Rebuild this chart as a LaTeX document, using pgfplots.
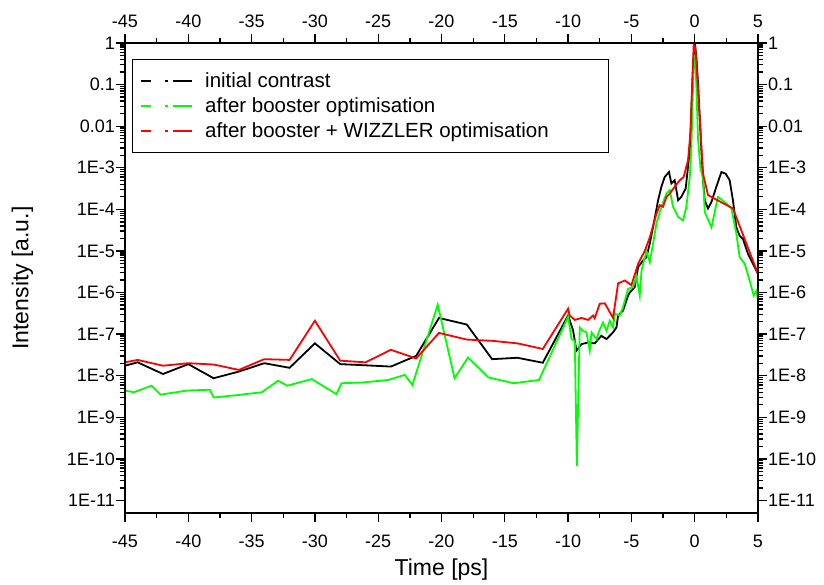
\documentclass[border=0pt]{standalone}
\usepackage{pgfplots}
\pgfplotsset{compat=1.18}
\usepackage{fontspec}
\setmainfont{Liberation Sans}
\definecolor{cgreen}{RGB}{0,255,0}
\definecolor{cred}{RGB}{255,0,0}
\begin{document}
\begin{tikzpicture}
\begin{axis}[
  at={(0pt,0pt)}, anchor=south west,
  scale only axis, width=633pt, height=470pt,
  xmin=-45, xmax=5, ymode=log, ymin=5e-12, ymax=1,
  xtick={-45,-40,...,5},
  xticklabels={-45,-40,-35,-30,-25,-20,-15,-10,-5,0,5},
  minor x tick num=1,
  ytick={1e-11,1e-10,1e-9,1e-8,1e-7,1e-6,1e-5,1e-4,1e-3,1e-2,1e-1,1},
  yticklabels={1E-11,1E-10,1E-9,1E-8,1E-7,1E-6,1E-5,1E-4,1E-3,0.01,0.1,1},
  tick align=outside,
  major tick length=9pt, minor tick length=5pt,
  every tick/.style={black, line width=1.3pt},
  axis line style={line width=1.4pt},
  ticklabel style={font=\fontsize{18}{20}\selectfont},
  xticklabel style={inner sep=2pt, yshift=-11pt},
  yticklabel style={inner sep=1pt},
  xticklabel pos=lower, yticklabel pos=left,
  xlabel={Time [ps]}, ylabel={Intensity [a.u.]},
  label style={font=\fontsize{23}{27}\selectfont},
  xlabel style={yshift=-5pt},
  ylabel style={yshift=29pt},
  legend cell align=left,
  legend style={at={(0.0106,0.9653)}, anchor=north west,
    draw=black, line width=1pt, font=\fontsize{20.5}{24}\selectfont,
    inner xsep=8pt, inner ysep=11pt, row sep=4.7pt},
  legend image code/.code={\draw[#1, line width=2pt, dash pattern=on 10pt off 14pt on 3pt off 5pt on 19pt off 10pt] (0pt,0pt) -- (51pt,0pt); \path[draw=none] (0pt,0pt) -- (62pt,0pt);},
]
\addplot[black, line width=1.8pt] coordinates {
(-45,1.74e-8) (-44,2.1e-8) (-42,1.1e-8) (-40,1.9e-8) (-38,8.7e-9) (-36,1.26e-8)
(-34,2.0e-8) (-32,1.55e-8) (-30,6.0e-8) (-28,1.9e-8) (-26,1.78e-8) (-24,1.66e-8)
(-22,3.0e-8) (-20.2,2.45e-7) (-18,1.7e-7) (-16,2.5e-8) (-14,2.7e-8) (-12,2.05e-8)
(-10.0,2.8e-7) (-9.6,1.2e-7) (-9.34,4.0e-8) (-8.94,5.75e-8) (-8.42,6.3e-8) (-7.9,6.0e-8)
(-7.37,9.1e-8) (-6.97,7.6e-8) (-6.45,1.1e-7) (-6.18,1.45e-7) (-6.05,2.8e-7) (-5.66,3.7e-7)
(-5.26,8.5e-7) (-5.13,1.0e-6) (-4.74,1.35e-6) (-4.47,4.1e-6) (-4.0,6.3e-6) (-3.81,7.1e-6)
(-3.55,1.5e-5) (-3.16,6.0e-5) (-2.89,1.66e-4) (-2.63,3.5e-4) (-2.37,6.0e-4) (-2.03,7.9e-4)
(-1.84,4.2e-4) (-1.58,5.0e-4) (-1.31,1.66e-4) (-1.05,2.0e-4) (-0.71,3.2e-4) (-0.39,2.6e-3)
(-0.25,3.2e-2) (-0.12,0.32) (0,1) (0.12,0.5) (0.25,0.126) (0.4,0.0158) (0.53,2.6e-3)
(0.66,5e-4) (0.79,1.66e-4) (1.05,1.05e-4) (1.32,1.5e-4) (1.71,3.5e-4) (2.11,7.9e-4)
(2.45,7.2e-4) (2.76,5.0e-4) (3.02,1.66e-4) (3.29,3.7e-5) (3.55,2.3e-5) (3.81,1.95e-5)
(4.21,8.5e-6) (4.6,4.9e-6) (5,2.8e-6)
};
\addlegendentry{initial contrast}
\addplot[cgreen, line width=1.8pt] coordinates {
(-45,4.4e-9) (-44.3,4.0e-9) (-42.9,5.75e-9) (-42.2,3.5e-9) (-40.1,4.4e-9) (-38.3,4.6e-9)
(-38,3.0e-9) (-36.2,3.4e-9) (-34.2,4.0e-9) (-32.9,7.6e-9) (-32.2,5.75e-9) (-30.25,8.3e-9)
(-28.3,3.6e-9) (-27.9,6.6e-9) (-26.2,6.9e-9) (-24.2,7.9e-9) (-22.9,1.05e-8) (-22.3,6.0e-9)
(-20.3,5.1e-7) (-18.97,8.7e-9) (-17.9,2.75e-8) (-16.3,9.1e-9) (-14.3,6.6e-9) (-12.3,7.9e-9)
(-10.0,2.6e-7) (-9.73,7.6e-8) (-9.47,6.9e-8) (-9.31,6.8e-11) (-9.08,1.45e-7) (-8.82,1.2e-7)
(-8.55,1.1e-7) (-8.29,4.0e-8) (-8.15,1.1e-7) (-7.76,7.6e-8) (-7.5,1.3e-7) (-7.24,1.9e-7)
(-6.97,1.2e-7) (-6.71,2.1e-7) (-6.45,1.45e-7) (-6.31,3.1e-7) (-5.92,2.8e-7) (-5.66,4.5e-7)
(-5.26,1.23e-6) (-4.87,1.35e-6) (-4.6,2.5e-6) (-4.34,8.5e-7) (-4.2,3.4e-6) (-3.81,1.0e-5)
(-3.55,5.4e-6) (-3.29,1.5e-5) (-3.02,4.6e-5) (-2.63,1.15e-4) (-2.23,2.4e-4) (-1.97,2.9e-4)
(-1.71,1.15e-4) (-1.31,6.6e-5) (-0.92,5.4e-5) (-0.66,1.15e-4) (-0.39,6.0e-4) (-0.26,3.2e-3)
(-0.15,0.063) (-0.05,0.5) (0.05,0.45) (0.15,0.063) (0.26,5.1e-3) (0.45,1e-3) (0.66,5.5e-4)
(0.79,8.7e-5) (1.32,3.7e-5) (1.84,2.0e-4) (2.37,1.5e-4) (2.9,1.05e-4) (3.29,2.6e-5)
(3.55,7.1e-6) (3.95,4.9e-6) (4.34,1.95e-6) (4.66,8.5e-7) (4.87,1.1e-6) (5,6.5e-7)
};
\addlegendentry{after booster optimisation}
\addplot[cred, line width=1.8pt] coordinates {
(-45,2.1e-8) (-44,2.4e-8) (-42,1.74e-8) (-40,2.0e-8) (-38,1.86e-8) (-36,1.38e-8)
(-34,2.5e-8) (-32,2.4e-8) (-30,2.1e-7) (-28,2.3e-8) (-26,2.1e-8) (-24,4.2e-8)
(-22,2.6e-8) (-20.2,1.07e-7) (-18,7.4e-8) (-16,6.9e-8) (-14,6.0e-8) (-12,4.4e-8)
(-10.0,4.1e-7) (-9.87,2.8e-7) (-9.47,2.2e-7) (-8.94,2.45e-7) (-8.42,2.2e-7) (-8.03,2.8e-7)
(-7.9,2.4e-7) (-7.5,5.4e-7) (-7.1,5.5e-7) (-6.45,2.45e-7) (-6.05,1.66e-6) (-5.52,1.95e-6)
(-5.0,1.5e-6) (-4.47,4.9e-6) (-3.95,1.0e-5) (-3.55,2.1e-5) (-3.02,7.9e-5) (-2.76,1.26e-4)
(-2.5,1.15e-4) (-2.23,2.0e-4) (-1.97,2.4e-4) (-1.58,3.5e-4) (-1.18,5.0e-4) (-0.87,6.0e-4)
(-0.53,1.5e-3) (-0.32,8e-3) (-0.2,0.1) (-0.08,0.9) (0.05,0.8) (0.2,0.158) (0.4,0.0158)
(0.53,3.2e-3) (0.66,7.2e-4) (1.05,2.2e-4) (3.02,1.05e-4) (5,2.8e-6)
};
\addlegendentry{\makebox[393pt][l]{after booster + WIZZLER optimisation}\rule[-23pt]{0pt}{1pt}}
\end{axis}
\begin{axis}[
  at={(0pt,0pt)}, anchor=south west,
  scale only axis, width=633pt, height=470pt,
  xmin=-45, xmax=5, ymode=log, ymin=5e-12, ymax=1,
  xtick={-45,-40,...,5},
  xticklabels={-45,-40,-35,-30,-25,-20,-15,-10,-5,0,5},
  minor x tick num=1,
  ytick={1e-11,1e-10,1e-9,1e-8,1e-7,1e-6,1e-5,1e-4,1e-3,1e-2,1e-1,1},
  yticklabels={1E-11,1E-10,1E-9,1E-8,1E-7,1E-6,1E-5,1E-4,1E-3,0.01,0.1,1},
  tick align=outside,
  major tick length=9pt, minor tick length=5pt,
  every tick/.style={black, line width=1.3pt},
  axis line style={line width=1.4pt},
  ticklabel style={font=\fontsize{18}{20}\selectfont},
  xticklabel style={inner sep=2pt, yshift=4pt},
  yticklabel style={inner sep=1pt},
  xticklabel pos=upper, yticklabel pos=right,
]
\addplot[draw=none] coordinates {(0,1e-5)};
\end{axis}
\pgfresetboundingbox
\path[use as bounding box] (-125pt,-71pt) rectangle (699pt,513pt);
\end{tikzpicture}
\end{document}
